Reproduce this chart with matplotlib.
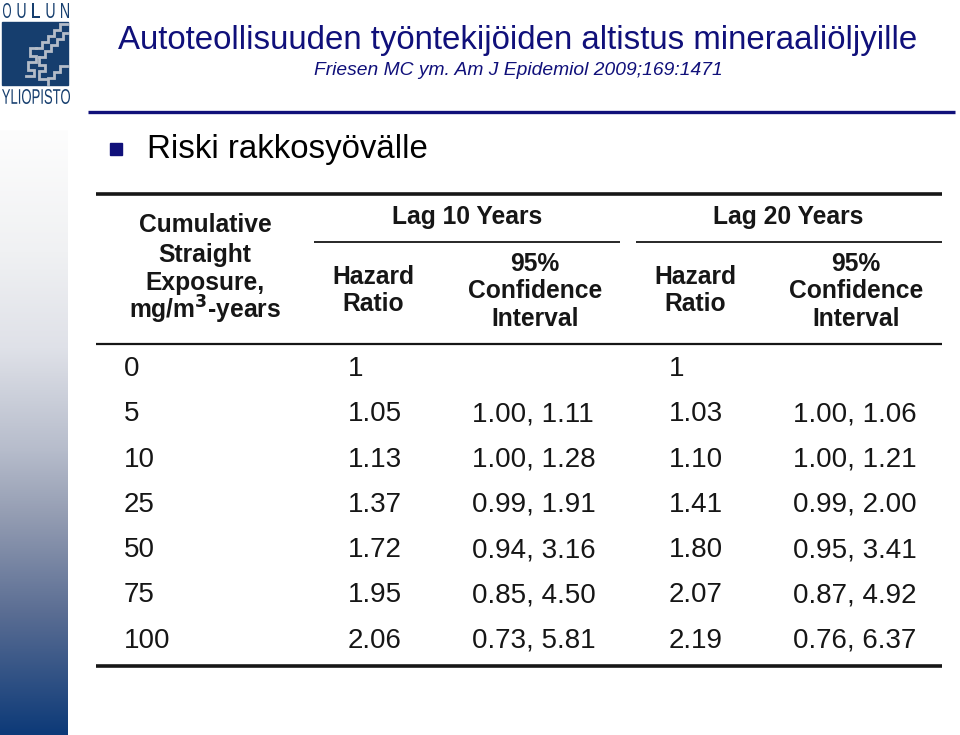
import numpy as np
import matplotlib
matplotlib.use("Agg")
import matplotlib.pyplot as plt
from matplotlib.colors import LinearSegmentedColormap
from matplotlib.textpath import TextPath
from matplotlib.patches import PathPatch
from matplotlib.font_manager import FontProperties
from matplotlib.transforms import Affine2D

plt.rcParams["font.family"] = ["Liberation Sans", "DejaVu Sans"]

# Table data (Friesen MC et al. 2009, bladder cancer risk)
exposure = ["0", "5", "10", "25", "50", "75", "100"]
hr_lag10 = ["1", "1.05", "1.13", "1.37", "1.72", "1.95", "2.06"]
ci_lag10 = ["", "1.00, 1.11", "1.00, 1.28", "0.99, 1.91", "0.94, 3.16", "0.85, 4.50", "0.73, 5.81"]
hr_lag20 = ["1", "1.03", "1.10", "1.41", "1.80", "2.07", "2.19"]
ci_lag20 = ["", "1.00, 1.06", "1.00, 1.21", "0.99, 2.00", "0.95, 3.41", "0.87, 4.92", "0.76, 6.37"]

NAVY = "#10107a"
INK = "#161616"
LOGO = "#163e6e"

W, H = 960, 735
fig = plt.figure(figsize=(W / 100, H / 100), dpi=100)
ax = fig.add_axes([0, 0, 1, 1])
ax.set_xlim(0, W); ax.set_ylim(H, 0); ax.axis("off")


def boxed_text(s, x0, y0, x1, y1, color):
    """Squeeze a text path into a pixel box (condensed logo lettering)."""
    tp = TextPath((0, 0), s, size=10, prop=FontProperties(family="Liberation Sans"))
    bb = tp.get_extents()
    sx = (x1 - x0) / bb.width
    sy = (y1 - y0) / bb.height
    tr = Affine2D().translate(-bb.x0, -bb.y1).scale(sx, -sy).translate(x0, y0)
    ax.add_patch(PathPatch(tp, transform=tr + ax.transData, color=color, lw=0))


# left gradient bar
stops = [(0.0, "#fdfdfd"), (0.2, "#f0f1f3"), (0.36, "#dfe1e8"),
         (0.53, "#b6bccb"), (0.64, "#939cb2"), (0.8, "#5a6d93"), (1.0, "#0d3a78")]
cmap = LinearSegmentedColormap.from_list("bar", stops)
ax.imshow(np.linspace(0, 1, 256)[:, None], cmap=cmap, aspect="auto",
          extent=[0, 68, 735, 130], zorder=0)

# logo
ax.add_patch(plt.Rectangle((2, 22), 66, 63, color=LOGO, zorder=1))
steps = [[(67, 24), (60, 24), (60, 30), (54, 30), (54, 36), (48, 36), (48, 42), (42, 42), (42, 48), (36, 48)],
         [(67, 33), (63, 33), (63, 39), (57, 39), (57, 45), (51, 45), (51, 51), (45, 51), (45, 57), (39, 57)],
         [(36, 48), (30, 48), (30, 56), (36, 56), (36, 62), (28, 62), (28, 70), (34, 70), (34, 76), (26, 76)],
         [(39, 57), (39, 65), (45, 65), (45, 71), (39, 71), (39, 79), (47, 79)],
         [(67, 66), (60, 66), (60, 72), (54, 72), (54, 78), (48, 78), (48, 84)]]
for s in steps:
    s = np.array(s)
    ax.plot(s[:, 0], s[:, 1], color="#b4bcc8", lw=2.0, zorder=2, solid_joinstyle="miter")
for i, ch in enumerate("OULUN"):
    boxed_text(ch, 3 + i * 14.5, 3, 3 + i * 14.5 + 8, 18, LOGO)
boxed_text("YLIOPISTO", 2, 89, 70, 104, LOGO)

# title
ax.text(518, 40, "Autoteollisuuden työntekijöiden altistus mineraaliöljyille",
        ha="center", va="center", fontsize=23.8, color=NAVY)
ax.text(518, 70, "Friesen MC ym. Am J Epidemiol 2009;169:1471",
        ha="center", va="center", fontsize=13.9, color=NAVY, style="italic")
ax.plot([88, 955], [112, 112], color=NAVY, lw=2.4, solid_capstyle="butt")

# bullet
ax.add_patch(plt.Rectangle((110, 143), 12, 12, color=NAVY))
ax.text(147, 149, "Riski rakkosyövälle", ha="left", va="center",
        fontsize=23.8, color="black")

# table rules
ax.plot([96, 942], [194, 194], color=INK, lw=2.6, solid_capstyle="butt")
ax.plot([314, 620], [242, 242], color=INK, lw=1.3, solid_capstyle="butt")
ax.plot([636, 942], [242, 242], color=INK, lw=1.3, solid_capstyle="butt")
ax.plot([96, 942], [344, 344], color=INK, lw=1.6, solid_capstyle="butt")
ax.plot([96, 942], [666, 666], color=INK, lw=2.6, solid_capstyle="butt")

hdr = dict(ha="center", va="center", fontsize=17.7, fontweight="bold", color=INK)
ax.text(205, 225, "Cumulative", **hdr)
ax.text(205, 255, "Straight", **hdr)
ax.text(205, 283, "Exposure,", **hdr)
ax.text(205, 310, "mg/m$^{\\mathbf{3}}$-years", **hdr)
ax.text(467, 217, "Lag 10 Years", **hdr)
ax.text(788, 217, "Lag 20 Years", **hdr)
for cx in (373, 695):
    ax.text(cx, 277, "Hazard", **hdr)
    ax.text(cx, 304, "Ratio", **hdr)
for cx in (535, 856):
    ax.text(cx, 264, "95%", **hdr)
    ax.text(cx, 291, "Confidence", **hdr)
    ax.text(cx, 319, "Interval", **hdr)

# table body
row_y = 369
row_h = 45.3
cols = [(124, exposure), (348, hr_lag10), (472, ci_lag10), (669, hr_lag20), (793, ci_lag20)]
for x, vals in cols:
    for i, v in enumerate(vals):
        ax.text(x, row_y + i * row_h, v, ha="left", va="center",
                fontsize=20, color=INK)

fig.savefig("out.png", dpi=100)
